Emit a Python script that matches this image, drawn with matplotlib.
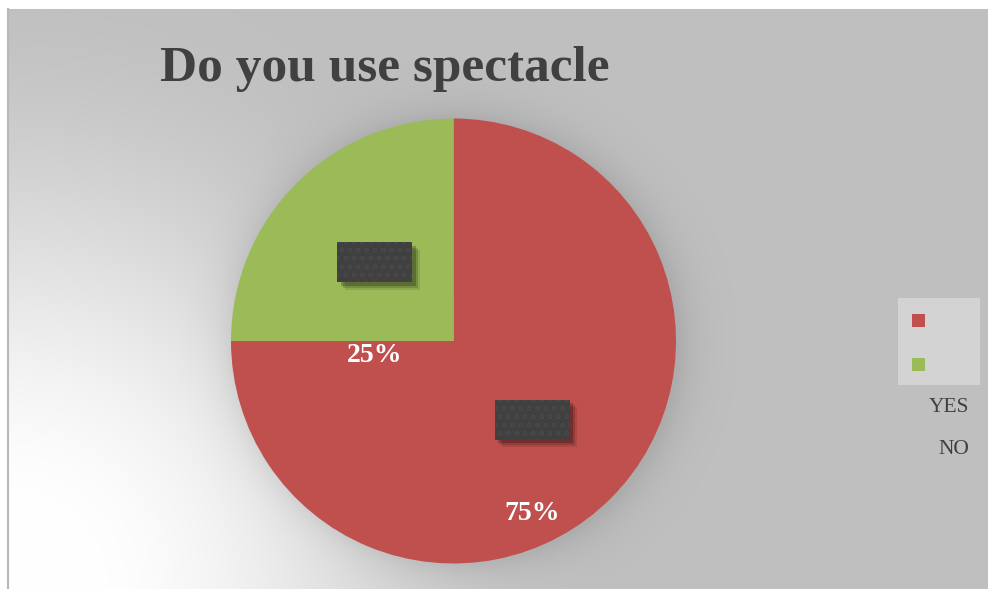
import numpy as np
import matplotlib.pyplot as plt
from matplotlib.patches import Rectangle

categories = ["YES", "NO"]
shares = [75, 25]
pct_labels = ["75%", "25%"]
colors = ["#c0504d", "#9bbb59"]
title = "Do you use spectacle"

W, H = 988, 589
fig = plt.figure(figsize=(W / 100, H / 100), dpi=100)

# background axes in pixel coordinates
bg = fig.add_axes([0, 0, 1, 1])
bg.set_xlim(0, W)
bg.set_ylim(H, 0)
bg.axis("off")

cx, cy, r = 453.5, 341, 222.5
yy, xx = np.mgrid[0:H, 0:W] + 0.5
d = np.hypot(xx - 7, yy - H)
t = np.clip((d - 60) / 560, 0, 1)
v = 255 - 63 * (3 * t ** 2 - 2 * t ** 3)
# soft shadow around the pie
dp = np.hypot(xx - cx - 2, yy - cy - 2) - r
v = v - np.where(dp > -5, 20 * np.exp(-np.clip(dp, 0, None) / 20), 0)
v[:9, :] = 255
v[:, :7] = 255
img = np.dstack([v, v, v]) / 255
bg.imshow(np.clip(img, 0, 1), extent=(0, W, H, 0), interpolation="bilinear")
bg.plot([7.5, 7.5], [9, H], color="#b8b8b8", lw=1.5)

bg.text(160, 81, title, fontsize=37, fontweight="bold", family="Liberation Serif",
        color="#404040", va="baseline", ha="left")

# legend (box with swatches, names below as in reference)
bg.add_patch(Rectangle((898, 298), 82, 87, color="#d3d3d3", lw=0))
for i, c in enumerate(colors):
    bg.add_patch(Rectangle((912, 314 + 44 * i), 13, 13, color=c, lw=0))
for i, name in enumerate(categories):
    bg.text(969, 407 + 43 * i, name, fontsize=15.5, family="Liberation Serif",
            color="#404040", ha="right", va="center")

# pie
ax = fig.add_axes([(cx - r) / W, (H - cy - r) / H, 2 * r / W, 2 * r / H])
wedges, _ = ax.pie(shares, colors=colors, startangle=90, counterclock=False,
                   radius=1, wedgeprops=dict(linewidth=0))
ax.set_xlim(-1, 1)
ax.set_ylim(-1, 1)
ax.axis("off")

plt.rcParams["hatch.linewidth"] = 0.6
bw, bh = 75 / r, 40 / r
for w, lab in zip(wedges, pct_labels):
    th = np.deg2rad((w.theta1 + w.theta2) / 2)
    bx, by = 0.5 * np.cos(th), 0.5 * np.sin(th)
    for k, a in [(0.035, 0.10), (0.025, 0.15), (0.015, 0.22)]:
        ax.add_patch(Rectangle((bx - bw / 2 + k, by - bh / 2 - k), bw, bh,
                               color="black", alpha=a, lw=0))
    ax.add_patch(Rectangle((bx - bw / 2, by - bh / 2), bw, bh,
                           facecolor="#404040", edgecolor="#494949", hatch="oo", lw=0))
    ax.text(bx, by - 0.42, lab, color="white", fontsize=20, fontweight="bold",
            family="Liberation Serif", ha="center", va="center")

fig.savefig("out.png", dpi=100)
